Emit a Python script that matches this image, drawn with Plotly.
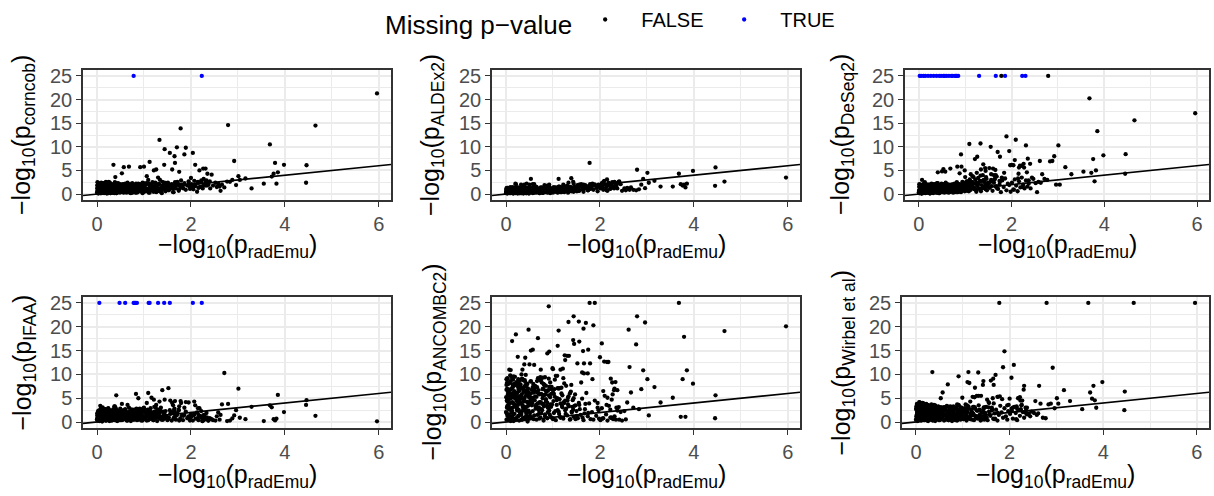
import plotly.graph_objects as go

# ---------------- data: -log10 p-values (None = missing p-value) ----------------
radEmu = [
    # right tail
    5.96, 4.65, 4.46, 4.45, 3.98, 3.85, 3.82, 3.79, 3.76, 3.72,
    3.68, 3.55, 3.29, 3.16, 3.04, 3.01, 2.96, 2.92, 2.88, 2.83,
    2.79, 2.77, 2.71, 2.66, 2.63, 2.61, 2.58, 2.55, 2.52, 2.47,
    2.44, 2.40,
    # mid range
    1.78, 1.89, 1.33, 1.44, 1.70, 1.55, 1.65, 1.86, 2.04, 1.66,
    1.12, 1.10, 1.43, 2.09, 1.21, 1.26, 1.60, 1.75, 2.18, 2.26,
    2.23, 2.31, 2.30, 2.35, 0.78, 1.30, 1.66, 1.39, 1.52, 1.09,
    0.91, 0.83, 0.41, 0.35, 0.57, 0.68, 0.92, 1.00, 0.53, 0.39,
    1.06, 0.48, 0.21, 0.13, 0.25, 0.60, 0.50, 0.74, 0.07, 0.05,
    0.01, 1.25, 1.34, 1.45, 1.56, 1.64, 1.74, 1.84, 1.79, 2.00,
    2.07, 2.15, 2.16, 2.27, 2.37, 2.41, 2.33, 2.22, 1.95, 1.97,
    1.62, 1.16, 1.22, 0.88, 0.99, 1.14,
    # low range (DeSeq2 missing)
    0.02, 0.10, 0.14, 0.20, 0.26, 0.32, 0.38, 0.44, 0.53, 0.56,
    0.65, 0.70, 0.73, 0.80, 0.82, 0.85,
    # bulk
    0.00, 0.01, 0.01, 0.02, 0.03, 0.03, 0.04, 0.05, 0.06, 0.07,
    0.08, 0.09, 0.10, 0.11, 0.12, 0.13, 0.14, 0.15, 0.16, 0.17,
    0.18, 0.19, 0.20, 0.21, 0.22, 0.23, 0.24, 0.25, 0.26, 0.27,
    0.28, 0.29, 0.30, 0.31, 0.32, 0.33, 0.34, 0.35, 0.36, 0.37,
    0.38, 0.39, 0.40, 0.41, 0.42, 0.43, 0.44, 0.45, 0.46, 0.47,
    0.48, 0.49, 0.50, 0.02, 0.04, 0.06, 0.09, 0.12, 0.15, 0.19,
    0.52, 0.54, 0.55, 0.57, 0.58, 0.60, 0.62, 0.63, 0.65, 0.66,
    0.68, 0.69, 0.71, 0.72, 0.74, 0.75, 0.77, 0.79, 0.80, 0.82,
    0.83, 0.85, 0.86, 0.88, 0.89, 0.91, 0.92, 0.94, 0.95, 0.97,
    0.98, 1.00, 0.24, 0.31, 0.37, 0.44, 0.51, 0.59, 0.67, 0.76,
    1.02, 1.04, 1.06, 1.08, 1.10, 1.12, 1.14, 1.16, 1.18, 1.20,
    1.22, 1.24, 1.26, 1.28, 1.30, 1.32, 1.34, 1.36, 1.38, 1.40,
    1.42, 1.44, 1.46, 1.48, 1.50, 0.84, 0.93, 1.03, 1.13, 1.23,
    1.53, 1.56, 1.59, 1.62, 1.65, 1.68, 1.71, 1.74, 1.77, 1.80,
    1.83, 1.86, 1.89, 1.92, 1.95, 1.98, 1.33, 1.43, 1.55, 1.67,
    2.01, 2.04, 2.07, 2.10, 2.13, 2.16, 2.19, 2.22, 2.25, 2.28,
    2.31, 2.34, 2.37, 2.05, 2.14, 2.24, 0.05, 0.10, 0.14, 0.22,
    0.27, 0.33, 0.40, 0.46, 0.53, 0.61, 0.70, 0.78, 0.87, 0.96,
    # bulk (second pass)
    0.005, 0.015, 0.025, 0.035, 0.045, 0.055, 0.065, 0.075, 0.085, 0.095,
    0.105, 0.115, 0.125, 0.135, 0.145, 0.155, 0.165, 0.175, 0.185, 0.195,
    0.205, 0.215, 0.225, 0.235, 0.245, 0.255, 0.265, 0.275, 0.285, 0.295,
    0.305, 0.315, 0.325, 0.335, 0.345, 0.355, 0.365, 0.375, 0.385, 0.395,
    0.405, 0.415, 0.425, 0.435, 0.445, 0.455, 0.465, 0.475, 0.485, 0.495,
    0.51, 0.53, 0.55, 0.57, 0.59, 0.61, 0.63, 0.65, 0.67, 0.69,
    0.71, 0.73, 0.75, 0.77, 0.79, 0.81, 0.83, 0.85, 0.87, 0.89,
    0.91, 0.93, 0.95, 0.97, 0.99, 1.01, 1.05, 1.09, 1.15, 1.19,
    0.03, 0.08, 0.13, 0.18, 0.23, 0.28, 0.33, 0.38, 0.43, 0.48,
    1.27, 1.31, 1.37, 1.41, 1.47, 1.51, 1.57, 1.63, 1.69, 1.75,
    # bulk (third pass)
    0.02, 0.06, 0.11, 0.16, 0.21, 0.26, 0.31, 0.36, 0.41, 0.46,
    0.04, 0.09, 0.14, 0.19, 0.24, 0.29, 0.34, 0.39, 0.44, 0.49,
    0.52, 0.56, 0.60, 0.64, 0.68, 0.72, 0.76, 0.80, 0.84, 0.88,
    0.92, 0.96, 1.00, 1.04, 1.08, 1.12, 1.16, 1.20, 1.24, 1.28,
    0.01, 0.07, 0.12, 0.17, 0.22, 0.27, 0.32, 0.37, 0.42, 0.47,
    0.54, 0.62, 0.70, 0.78, 0.86, 0.94, 1.02, 1.10, 1.18, 1.26,
    0.03, 0.08, 0.13, 0.18, 0.23, 0.28, 0.33, 0.38, 0.43, 0.50,
    1.32, 1.36, 1.40, 1.44, 1.48, 0.58, 0.66, 0.74, 0.82, 0.90,
]

corncob = [
    21.3, 14.5, 6.1, 2.4, 6.2, 4.6, 2.2, 6.6, 4.3, 3.7,
    10.5, 2.2, 1.2, 3.3, 3.0, 3.8, 1.9, 7.0, 3.0, 2.6,
    14.6, 2.65, 1.4, 2.0, 0.7, 1.6, 2.2, 1.5, 2.4, 1.8,
    4.1, 2.7,
    13.9, 9.8, 11.45, 9.5, 9.9, 8.7, 8.0, 8.4, 8.7, 6.6,
    6.8, 2.2, 6.2, 6.2, 5.0, 5.2, 5.2, 4.7, 5.0, 5.4,
    None, 5.4, 1.8, 4.3, None, 3.5, 2.5, 2.6, 2.1, 3.0,
    2.0, 1.2, 1.8, 6.2, 5.7, 5.8, 5.7, 5.8, 4.4, 3.6,
    3.8, 2.0, 1.0, 2.2, 2.6, 1.0, 1.5, 1.3, 1.5, 1.0,
    2.5, 2.3, 3.0, 2.0, 1.8, 1.7, 2.1, 1.2, 2.9, 3.4,
    2.0, 2.6, 1.3, 3.2, 2.0, 1.2, 2.9, 2.5, 2.2, 1.6,
    1.2, 1.9, 1.6, 1.4, 2.3, 1.2,
    1.4, 0.8, 1.9, 0.5, 2.3, 1.1, 0.4, 1.7, 0.6, 2.0,
    1.2, 0.3, 1.6, 0.9, 1.3, 2.1,
    0.3, 1.2, 0.7, 2.1, 0.1, 1.6, 0.9, 0.4, 1.9, 1.1,
    0.6, 2.4, 0.2, 1.4, 0.8, 1.8, 0.5, 1.0, 2.2, 0.3,
    1.5, 0.7, 1.9, 0.1, 1.2, 0.6, 2.3, 0.9, 0.4, 1.7,
    1.0, 0.2, 1.4, 2.0, 0.5, 1.1, 0.8, 1.8, 0.3, 1.3,
    2.5, 0.6, 1.0, 0.2, 1.6, 0.9, 1.9, 0.4, 1.2, 0.7,
    1.5, 0.3, 2.0, 0.8, 1.4, 0.5, 1.7, 1.1, 0.2, 2.6,
    0.9, 1.3, 0.4, 1.8, 0.7, 2.2, 1.0, 0.3, 1.5, 0.6,
    1.9, 0.8, 1.2, 0.2, 1.6, 2.3, 0.5, 1.0, 1.4, 0.4,
    1.1, 0.3, 1.8, 0.7, 2.1, 1.3, 0.6, 1.6, 0.9, 2.4,
    0.5, 1.2, 0.8, 1.7, 0.2, 1.4, 2.0, 0.6, 1.1, 1.8,
    1.4, 0.6, 2.2, 1.0, 0.3, 1.7, 0.8, 1.3, 2.5, 0.5,
    1.1, 1.9, 0.4, 1.5, 0.9, 2.1, 0.7, 1.3, 0.2, 1.8,
    1.0, 2.4, 0.6, 1.6, 1.2, 0.5, 1.4, 0.9, 2.0, 1.7,
    0.8, 1.5, 2.1, 0.4, 1.9, 1.2, 2.6, 0.7, 1.6, 2.0,
    1.3, 2.3, 0.9, 1.8, 2.7, 1.1, 0.6, 2.2, 1.0, 1.9,
    2.1, 1.4, 2.8, 1.7, 0.5, 2.4, 1.5, 2.9, 1.2, 2.0,
    2.6, 1.8, 2.2, 1.0, 2.5, 1.6, 0.8, 1.3, 1.9, 0.4,
    1.6, 0.9, 1.5, 2.2, 0.7, 1.3, 1.0, 1.7, 0.5, 1.2,
    1.8, 0.4, 2.2, 1.0, 0.6, 1.4, 2.0, 0.2, 1.2, 0.8,
    0.5, 1.7, 0.9, 2.3, 0.3, 1.1, 1.5, 0.7, 2.1, 1.3,
    2.0, 0.8, 1.3, 0.4, 1.9, 0.6, 1.1, 2.4, 0.2, 1.6,
    0.7, 2.1, 0.3, 1.5, 1.0, 1.8, 0.5, 1.2, 2.2, 0.9,
    1.4, 0.2, 1.9, 0.8, 2.3, 1.1, 0.4, 1.6, 0.9, 2.0,
    0.6, 1.5, 2.1, 0.3, 1.2, 1.8, 0.8, 2.4, 1.0, 0.4,
    1.7, 0.9, 0.3, 2.0, 1.3, 0.6, 2.2, 1.1, 0.5, 1.6,
    2.1, 0.7, 1.4, 0.2, 1.9, 1.0, 2.3, 0.6, 1.5, 0.9,
    0.9, 1.6, 0.3, 2.0, 1.2, 0.5, 1.8, 0.8, 2.2, 1.4,
    1.1, 2.0, 0.5, 1.7, 0.8, 2.4, 1.3, 0.4, 1.9, 1.0,
    0.7, 1.9, 1.2, 0.4, 2.2, 0.9, 1.5, 0.3, 1.8, 1.1,
    2.0, 0.6, 1.4, 1.0, 0.2, 1.7, 0.8, 2.3, 1.3, 0.5,
    1.6, 0.4, 2.1, 0.9, 1.2, 0.3, 1.9, 0.7, 1.4, 2.2,
    0.8, 1.5, 0.5, 2.0, 1.1, 0.3, 1.7, 0.9, 2.4, 1.3,
    1.2, 2.3, 0.5, 1.6, 0.9, 2.0, 0.3, 1.4, 0.7, 1.9,
    0.6, 1.3, 2.1, 0.4, 1.8, 1.0, 0.7, 2.2, 1.5, 0.5,
    1.7, 0.2, 1.1, 2.4, 0.6, 1.5, 0.9, 2.0, 0.4, 1.3,
    2.1, 0.8, 1.6, 1.0, 2.3, 0.5, 1.2, 1.8, 0.3, 1.6,
]

aldex2 = [
    3.5, 2.65, 5.65, 1.75, 4.9, 2.2, 1.4, 2.0, 1.8, 2.1,
    4.3, 1.6, 1.6, 2.8, 2.4, 4.5, 1.25, 3.2, 2.0, 1.0,
    5.15, 0.8, 0.9, 1.4, 0.9, 1.1, 1.3, 0.8, 1.2, 0.7,
    2.1, 2.6,
    6.6, 2.0, 2.4, 2.2, 1.8, 1.5, 2.0, 1.9, 2.3, 1.3,
    3.2, 1.0, 2.6, 2.8, 1.5, 1.0, 2.1, 1.6, 2.4, 2.5,
    2.0, 2.6, 1.2, 1.8, 0.5, 1.8, 1.4, 3.35, 1.9, 1.0,
    1.2, 1.1, 0.8, 0.6, 2.1, 0.9, 2.0, 1.0, 3.2, 2.0,
    1.4, 1.1, 2.1, 1.0, 1.4, 2.1, 2.0, 0.6, 0.5, 0.8,
    1.2, 1.5, 1.2, 1.3, 2.0, 1.9, 1.0, 2.2, 2.1, 1.8,
    2.5, 3.1, 1.9, 1.4, 2.3, 2.7, 1.5, 1.2, 1.5, 2.0,
    1.7, 1.3, 2.0, 1.8, 0.7, 1.6,
    0.6, 1.1, 0.3, 2.2, 0.8, 2.0, 0.5, 2.2, 1.3, 0.7,
    1.5, 0.4, 1.0, 0.6, 1.9, 0.9,
    0.2, 0.9, 0.5, 1.3, 0.1, 0.7, 1.1, 0.3, 0.8, 0.4,
    1.2, 0.6, 0.2, 1.0, 0.4, 0.8, 1.4, 0.1, 0.6, 0.9,
    0.3, 1.1, 0.7, 0.2, 1.3, 0.5, 0.9, 0.1, 1.0, 0.6,
    0.8, 0.3, 1.2, 0.5, 0.2, 1.0, 0.7, 0.4, 1.5, 0.1,
    0.6, 1.1, 0.3, 0.9, 0.5, 1.3, 0.2, 0.8, 0.4, 1.0,
    0.7, 0.1, 1.2, 0.5, 0.9, 0.3, 1.4, 0.6, 1.0, 0.2,
    0.9, 0.4, 1.1, 0.2, 0.7, 1.3, 0.5, 0.8, 0.3, 1.2,
    0.6, 1.0, 0.2, 0.8, 1.4, 0.4, 0.9, 0.3, 1.1, 0.7,
    0.5, 1.2, 0.8, 0.3, 1.0, 0.6, 1.5, 0.2, 0.9, 0.4,
    1.1, 0.7, 0.4, 1.0, 0.6, 0.2, 0.8, 1.3, 0.5, 0.9,
    0.8, 1.3, 0.5, 1.0, 0.3, 1.6, 0.7, 1.1, 0.4, 1.4,
    0.9, 0.4, 1.2, 0.7, 1.5, 0.3, 1.0, 0.6, 1.3, 0.8,
    1.1, 0.5, 1.6, 0.8, 1.2, 0.4, 1.0, 0.7, 1.4, 0.6,
    1.3, 0.7, 1.7, 1.0, 0.5, 1.9, 1.2, 0.8, 1.5, 1.1,
    1.6, 0.9, 2.0, 1.3, 0.6, 1.8, 1.0, 1.4, 0.7, 1.5,
    1.2, 1.8, 0.9, 2.1, 1.4, 0.7, 1.9, 1.1, 2.2, 1.5,
    1.7, 2.3, 1.2, 1.6, 0.8, 2.0, 0.5, 1.0, 0.3, 0.8,
    0.6, 1.1, 0.4, 0.9, 1.2, 0.5, 1.0, 0.3, 0.8, 0.6,
    0.5, 1.0, 0.2, 1.3, 0.7, 0.3, 1.1, 0.8, 0.4, 1.4,
    0.9, 0.3, 1.2, 0.6, 1.0, 0.2, 0.8, 1.3, 0.5, 0.7,
    0.4, 1.1, 0.7, 1.4, 0.3, 0.9, 0.5, 1.2, 0.8, 0.2,
    1.0, 0.6, 1.3, 0.3, 0.8, 1.1, 0.4, 0.7, 1.2, 0.5,
    0.3, 0.9, 0.6, 1.2, 0.4, 1.0, 1.3, 0.2, 0.7, 1.1,
    0.8, 0.4, 1.1, 0.6, 1.3, 0.3, 0.9, 0.5, 1.2, 0.7,
    1.0, 0.5, 0.8, 1.4, 0.3, 1.1, 0.6, 0.9, 1.3, 0.4,
    0.7, 1.2, 0.4, 1.0, 0.6, 1.4, 0.8, 1.1, 0.5, 1.3,
    0.6, 0.2, 0.9, 0.4, 1.1, 0.7, 0.3, 1.0, 0.5, 0.8,
    1.2, 0.7, 1.5, 0.9, 1.3, 0.6, 1.6, 1.0, 1.4, 0.8,
    0.4, 1.2, 0.7, 0.2, 1.0, 0.5, 1.3, 0.8, 0.3, 1.1,
    0.9, 0.3, 1.4, 0.6, 1.0, 0.2, 0.8, 1.2, 0.5, 0.7,
    1.1, 0.4, 0.9, 1.3, 0.6, 0.2, 1.0, 0.7, 1.4, 0.5,
    0.8, 1.2, 0.3, 1.0, 0.6, 1.5, 0.4, 0.9, 1.3, 0.7,
    0.6, 1.0, 0.3, 1.3, 0.8, 0.4, 1.1, 0.6, 0.2, 0.9,
    1.2, 0.5, 0.9, 0.3, 1.1, 0.7, 1.4, 0.4, 1.0, 0.8,
    0.3, 0.8, 1.2, 0.5, 0.9, 1.3, 0.2, 0.7, 1.1, 0.4,
    1.0, 1.4, 0.6, 1.2, 0.8, 0.3, 1.1, 0.5, 0.9, 1.3,
]

deseq2 = [
    17.1, 15.6, 8.45, 4.3, 8.2, 13.3, 5.0, 2.7, 7.4, 4.5,
    20.25, 4.75, 4.2, 5.7, 2.0, 10.3, 2.0, 8.0, 7.0, 6.9,
    25, 3.0, 3.2, 4.2, 2.4, 7.0, 2.6, 0.4, 2.3, 3.2,
    3.5, 6.4,
    25, 12.2, 10.7, 4.9, 8.9, 10.0, 5.1, None, 6.1, 4.0,
    4.2, 2.0, 5.5, 11.5, 7.4, 7.9, 5.4, 7.9, 6.0, 6.4,
    None, 10.3, None, 7.5, None, None, None, 6.3, 5.5, 10.6,
    8.4, 5.8, 4.6, 2.0, 4.75, 5.4, 5.8, 3.6, 5.3, 2.3,
    2.4, None, 1.5, 2.5, 1.0, None, 4.8, 2.0, 3.0, None,
    2.1, 4.5, 5.2, 3.6, 4.2, 3.2, 2.8, 4.5, 3.5, 6.2,
    7.2, 4.3, 5.6, 5.6, 2.9, 1.2, 4.6, 6.0, 9.1, 6.1,
    4.0, 3.8, 3.1, 4.4, 5.0, 2.6,
    None, None, None, None, None, None, None, None, None, None,
    None, None, None, None, None, None,
    0.4, 1.5, 0.8, 0.2, 1.9, 1.1, 0.5, 1.3, 0.1, 0.9,
    1.7, 0.3, 1.0, 2.2, 0.6, 1.4, 0.2, 0.8, 1.6, 0.4,
    1.2, 0.7, 2.0, 0.3, 1.5, 0.9, 0.1, 1.8, 0.6, 1.1,
    0.5, 1.6, 0.9, 0.2, 2.1, 1.3, 0.7, 0.4, 1.0, 1.9,
    0.8, 0.3, 1.4, 2.3, 0.6, 1.1, 0.2, 1.7, 0.9, 0.5,
    2.0, 1.2, 0.4, 0.7, 1.5, 0.1, 1.0, 1.8, 0.6, 1.3,
    0.9, 1.7, 0.3, 1.2, 2.4, 0.6, 1.4, 0.8, 2.0, 0.4,
    1.1, 0.5, 1.9, 0.9, 0.3, 1.6, 2.2, 0.7, 1.3, 2.5,
    0.6, 1.4, 0.8, 2.1, 1.0, 0.4, 1.7, 2.6, 0.9, 1.5,
    1.2, 2.0, 0.6, 1.3, 0.9, 1.8, 0.5, 1.1, 0.7, 1.6,
    1.8, 0.7, 2.6, 1.3, 3.1, 0.9, 2.0, 1.5, 3.6, 1.1,
    2.3, 0.8, 1.7, 3.4, 1.2, 2.8, 0.6, 1.9, 4.0, 1.4,
    2.5, 1.0, 3.2, 1.6, 2.1, 0.9, 1.4, 2.7, 1.8, 2.2,
    1.3, 3.0, 0.7, 2.4, 1.6, 3.7, 1.1, 2.0, 0.4, 2.9,
    1.5, 3.3, 0.8, 2.2, 1.9, 0.5, 3.9, 1.2, 2.6, 1.7,
    2.4, 1.0, 3.1, 1.8, 0.6, 2.7, 1.4, 3.5, 2.0, 1.2,
    2.9, 1.6, 2.2, 0.9, 3.3, 1.5, 0.7, 1.3, 2.0, 0.5,
    1.8, 1.2, 0.6, 1.4, 2.1, 0.9, 1.5, 0.4, 1.9, 1.0,
    0.7, 1.6, 0.3, 1.1, 2.0, 0.5, 1.3, 0.9, 1.8, 0.2,
    1.4, 0.6, 2.1, 0.4, 1.0, 1.7, 0.8, 0.3, 1.5, 1.2,
    0.9, 1.9, 0.5, 1.3, 0.2, 1.6, 1.0, 2.2, 0.7, 1.1,
    1.5, 0.4, 1.2, 1.8, 0.6, 0.9, 2.0, 0.3, 1.4, 0.8,
    0.5, 1.3, 0.8, 0.2, 1.7, 1.1, 0.6, 1.9, 1.0, 0.4,
    1.2, 0.7, 1.8, 1.0, 0.4, 2.1, 0.9, 1.4, 0.6, 1.6,
    0.8, 2.0, 1.1, 0.5, 1.5, 0.9, 2.2, 0.7, 1.3, 1.9,
    1.6, 0.9, 2.4, 1.2, 0.6, 1.8, 2.7, 1.0, 2.2, 1.4,
    1.1, 0.4, 1.7, 0.8, 1.3, 0.6, 1.9, 1.0, 0.5, 1.4,
    2.0, 1.1, 2.8, 1.5, 0.8, 2.4, 1.7, 3.1, 1.2, 2.6,
    1.0, 0.3, 1.7, 0.6, 1.3, 2.1, 0.4, 1.1, 0.8, 1.9,
    0.5, 1.4, 0.9, 2.0, 0.2, 1.2, 1.6, 0.7, 1.0, 2.2,
    1.3, 0.6, 1.8, 0.3, 1.1, 2.0, 0.8, 1.5, 0.4, 1.2,
    1.9, 0.9, 2.3, 1.4, 0.6, 1.7, 2.5, 1.0, 0.5, 2.1,
    0.2, 1.0, 1.5, 0.7, 1.9, 0.4, 1.2, 2.1, 0.9, 0.6,
    1.4, 0.8, 2.0, 1.1, 0.5, 1.6, 2.2, 0.9, 1.3, 2.4,
    1.8, 0.6, 1.1, 0.3, 1.4, 0.9, 2.0, 0.5, 1.6, 1.0,
    2.6, 1.2, 3.0, 1.8, 2.3, 0.7, 1.5, 1.9, 0.4, 1.3,
]

ifaa = [
    0.15, 1.3, 4.6, 3.6, 2.1, 5.7, 0.7, 0.35, 0.6, 3.1,
    3.5, 0.2, 3.2, 0.6, 0.9, 7.0, 2.5, 1.4, 0.77, 0.3,
    3.8, 0.2, 10.3, 3.7, 1.5, 0.5, 2.0, 1.2, 0.3, 0.4,
    0.6, 0.8,
    4.4, 4.2, 4.3, 4.7, 1.5, None, 2.8, 3.0, None, 4.4,
    None, None, None, 3.5, 4.7, 3.6, 4.0, 3.3, 2.9, 1.4,
    None, 0.8, 1.0, 0.6, None, None, 2.0, 6.7, 7.1, 6.1,
    2.5, 5.9, 5.6, 2.7, 2.4, 3.0, 2.2, 3.0, 3.8, 1.8,
    4.0, None, 1.2, 2.0, 1.3, None, 2.3, 2.6, 3.4, None,
    1.8, 3.0, 2.6, 1.0, 4.5, 2.5, 2.6, 1.3, 4.0, 1.6,
    4.3, 2.9, 1.5, 0.4, 0.3, 0.6, 1.9, 2.3, 4.1, 0.8,
    3.5, 5.1, 3.2, 5.0, 2.9, 2.1,
    1.0, 2.2, 0.7, 1.5, 2.4, 0.4, 3.3, 1.2, 2.0, 0.9,
    3.6, 1.7, 0.6, None, None, None,
    0.6, 1.8, 0.3, 1.1, 2.4, 0.8, 1.5, 0.2, 1.3, 0.9,
    2.0, 0.5, 1.2, 0.1, 1.7, 2.6, 0.7, 1.4, 0.4, 1.0,
    1.6, 0.3, 2.2, 0.9, 0.5, 1.3, 2.8, 0.7, 1.9, 0.2,
    1.1, 2.3, 0.6, 1.5, 0.3, 1.8, 1.0, 2.5, 0.8, 1.4,
    0.4, 1.2, 2.9, 0.7, 1.6, 0.2, 2.1, 1.0, 0.5, 1.7,
    2.2, 0.9, 1.3, 0.4, 2.0, 1.1, 0.6, 3.1, 1.5, 0.3,
    1.0, 2.4, 0.5, 1.8, 0.8, 2.7, 1.2, 0.3, 1.6, 2.1,
    0.7, 1.4, 2.3, 0.2, 1.9, 1.0, 0.5, 2.6, 1.3, 0.8,
    1.7, 0.4, 2.0, 1.1, 0.6, 2.8, 1.5, 0.9, 2.2, 0.3,
    1.2, 2.5, 0.7, 1.9, 3.3, 0.5, 1.4, 2.0, 0.9, 1.6,
    0.8, 1.9, 0.3, 2.4, 1.2, 0.6, 2.9, 1.0, 1.6, 0.4,
    2.2, 0.9, 1.5, 0.2, 2.6, 1.3, 0.7, 3.0, 1.1, 0.5,
    1.8, 0.8, 2.3, 1.2, 0.4, 1.6, 2.7, 0.6, 1.4, 2.0,
    0.9, 1.7, 0.3, 2.1, 1.1, 0.5, 1.8, 2.4, 0.7, 1.3,
    0.4, 1.5, 2.2, 0.8, 1.2, 0.3, 1.9, 1.0, 2.5, 0.6,
    1.1, 0.3, 1.6, 0.7, 2.0, 0.4, 1.3, 0.9, 0.2, 1.5,
    0.6, 1.0, 0.3, 1.4, 0.8, 0.2, 1.7, 2.6, 0.9, 2.1,
    1.3, 2.2, 0.8, 1.6, 0.4, 2.0, 1.1, 0.6, 1.8, 2.4,
    1.4, 0.5, 2.1, 0.9, 1.7, 0.3, 2.5, 1.1, 0.6, 1.9,
    0.8, 2.3, 1.2, 0.4, 1.6, 2.0, 0.7, 1.3, 2.7, 0.5,
    1.9, 0.6, 1.4, 2.4, 0.9, 0.3, 1.7, 1.0, 2.1, 1.5,
    0.4, 1.8, 0.8, 1.2, 2.6, 0.6, 1.5, 2.2, 0.9, 1.3,
    2.0, 1.1, 0.5, 1.7, 0.8, 2.3, 1.2, 0.4, 1.9, 2.8,
    1.0, 2.2, 0.6, 1.5, 2.5, 0.9, 1.8, 0.3, 1.3, 2.0,
    0.7, 1.6, 2.3, 1.1, 0.5, 1.9, 1.2, 2.6, 0.8, 1.4,
    1.8, 0.6, 2.0, 1.3, 2.4, 0.9, 1.6, 0.4, 2.1, 1.0,
    1.2, 2.5, 0.8, 1.6, 0.4, 2.0, 1.1, 2.3, 0.7, 1.5,
    0.9, 1.7, 0.5, 2.2, 1.3, 0.6, 1.9, 0.8, 1.4, 0.3,
    2.1, 0.9, 1.5, 2.7, 0.4, 1.8, 1.1, 2.4, 0.7, 1.3,
    1.0, 2.3, 0.5, 1.6, 2.9, 0.8, 1.4, 2.0, 0.3, 1.7,
    1.9, 0.6, 2.5, 1.2, 0.4, 2.2, 1.0, 1.6, 2.8, 0.5,
    1.4, 2.0, 0.7, 1.1, 2.6, 0.9, 1.8, 0.4, 1.5, 2.3,
    0.8, 1.6, 2.2, 0.5, 1.3, 2.5, 0.9, 1.9, 0.3, 1.2,
    2.4, 1.1, 0.6, 1.9, 1.4, 0.3, 2.1, 1.7, 0.8, 1.2,
    1.5, 2.8, 0.9, 1.3, 2.1, 0.6, 1.7, 1.0, 2.4, 0.4,
    1.1, 2.2, 0.5, 1.6, 0.9, 2.0, 1.3, 2.6, 0.7, 1.8,
]

ancombc2 = [
    20.1, 19.1, 5.6, 0.8, 8.05, 10.85, 1.1, 17.9, 9.0, 1.1,
    25, 5.1, 4.1, 7.35, 1.4, 9.0, 20.9, 10.85, 6.9, 2.7,
    22.2, 16.3, 3.0, 6.2, 11.55, 19.4, 4.1, 0.55, 2.3, 0.3,
    2.1, 3.15,
    25, 25, 21.0, 22.2, 20.8, 21.1, 19.6, 20.3, 16.5, 12.3,
    19.2, 16.0, 17.2, 12.7, 11.2, 13.0, 8.3, 15.2, 12.6, 8.3,
    9.1, 7.0, 6.7, 3.0, 5.0, 13.9, 10.2, 7.8, 12.3, 9.7,
    24.3, 9.4, 13.5, 11.0, 15.2, 17.6, 14.8, 11.1, 15.0, 12.1,
    9.7, 19.4, 18.4, 17.0, 13.7, 12.0, 12.1, 11.0, 11.0, 8.0,
    9.0, 14.0, 13.9, 16.4, 16.9, 14.9, 10.2, 9.0, 12.3, 13.6,
    6.5, 12.6, 5.1, 5.8, 6.7, 0.5, 8.4, 2.6, 4.0, 2.5,
    10.4, 11.0, 9.2, 14.4, 11.3, 7.1,
    4.4, 10.9, 6.0, 3.3, 9.0, 5.5, 7.2, 2.2, 8.6, 4.0,
    6.3, 1.7, 9.4, 3.8, 5.7, 7.6,
    2.1, 7.8, 0.5, 4.6, 9.2, 1.3, 5.8, 3.2, 0.9, 6.7,
    3.9, 0.4, 8.6, 2.5, 5.1, 1.1, 7.2, 4.0, 0.2, 6.1,
    1.7, 9.5, 3.4, 0.7, 5.6, 2.8, 8.1, 4.4, 1.2, 6.9,
    0.3, 4.8, 2.2, 7.5, 1.5, 5.3, 3.7, 9.0, 0.8, 6.3,
    2.6, 5.0, 0.6, 8.4, 3.1, 1.9, 6.6, 4.2, 0.1, 7.0,
    3.5, 1.0, 5.9, 3.0, 6.4, 1.6, 4.9, 2.0, 8.9, 3.6,
    4.5, 0.9, 6.8, 2.3, 8.0, 1.4, 5.4, 3.3, 0.5, 7.3,
    2.9, 6.0, 0.7, 4.1, 8.7, 1.8, 3.8, 5.5, 0.3, 7.7,
    1.6, 4.4, 6.5, 0.8, 3.0, 9.1, 2.4, 5.2, 1.1, 7.4,
    3.7, 0.6, 4.3, 7.9, 2.7, 5.7, 1.3, 6.2, 3.9, 8.3,
    1.9, 5.3, 0.4, 3.6, 7.1, 2.2, 4.8, 0.9, 6.0, 3.1,
    0.7, 4.0, 2.5, 7.6, 1.4, 5.1, 3.3, 0.5, 6.4, 2.0,
    4.6, 1.1, 3.4, 0.6, 2.3, 5.8, 3.2, 6.9, 1.7, 4.2,
    0.8, 3.6, 1.5, 4.9, 0.4, 2.7, 6.1, 1.2, 3.9, 0.6,
    2.1, 0.5, 4.5, 1.3, 3.0, 0.7, 5.4, 2.6, 4.0, 1.8,
    0.4, 2.9, 0.8, 5.5, 1.6, 0.3, 3.4, 0.9, 4.7, 0.6,
    1.2, 0.5, 2.4, 0.7, 3.6, 1.0, 4.1, 0.2, 7.9, 3.2,
    5.0, 2.1, 8.8, 0.9, 4.7, 6.6, 2.5, 9.3, 3.4, 5.9,
    5.2, 1.8, 7.0, 3.4, 0.6, 4.7, 2.6, 8.2, 1.2, 6.0,
    2.9, 5.7, 0.9, 4.2, 7.4, 1.6, 3.8, 6.5, 0.4, 5.0,
    6.2, 0.8, 4.5, 2.4, 7.8, 3.6, 1.3, 5.4, 8.6, 2.0,
    4.0, 7.1, 1.7, 5.8, 0.5, 3.2, 6.8, 2.7, 4.9, 1.0,
    7.6, 3.0, 5.5, 1.4, 4.3, 8.0, 2.2, 6.3, 0.7, 3.9,
    1.9, 6.0, 3.5, 7.3, 0.6, 4.6, 2.8, 5.3, 1.5, 6.7,
    4.1, 0.9, 5.9, 2.5, 7.0, 3.3, 1.2, 4.8, 6.4, 2.1,
    5.6, 1.6, 3.7, 6.9, 0.8, 4.4, 2.3, 5.0, 1.1, 3.4,
    3.3, 6.8, 1.0, 5.1, 2.9, 7.7, 0.5, 4.3, 6.1, 2.4,
    1.7, 4.5, 0.6, 3.2, 5.8, 1.3, 2.7, 0.9, 3.8, 1.9,
    8.2, 4.1, 6.9, 9.6, 3.5, 7.3, 5.0, 8.8, 2.9, 6.4,
    5.5, 9.8, 3.0, 7.7, 6.1, 4.4, 9.1, 2.4, 7.9, 5.2,
    8.5, 4.9, 7.0, 3.6, 9.2, 5.8, 2.7, 8.0, 6.6, 4.0,
    7.4, 3.2, 6.2, 8.9, 4.6, 7.0, 3.9, 5.6, 8.1, 2.8,
    6.8, 3.8, 9.4, 5.3, 8.4, 2.6, 7.1, 4.7, 9.9, 3.4,
    5.1, 7.6, 3.1, 6.9, 4.3, 8.3, 5.9, 2.5, 7.2, 4.5,
    9.0, 5.7, 2.3, 8.0, 4.8, 6.5, 10.0, 3.3, 7.5, 5.4,
    3.7, 6.0, 2.2, 5.0, 3.5, 6.3, 8.6, 4.2, 7.8, 6.7,
]

wirbel = [
    25, 25, 6.4, 2.5, 8.4, 3.0, 4.55, 7.6, 4.9, 6.2,
    25, 2.7, 4.4, 6.7, 3.85, 5.0, 2.9, 11.4, 3.85, 3.7,
    25, 0.8, 0.9, 3.85, 7.6, 1.8, 1.5, 4.4, 1.9, 2.2,
    1.2, 1.6,
    25, 14.85, 10.4, 8.6, 9.9, 4.2, 9.1, 11.5, 9.3, 7.8,
    10.5, 8.4, 7.8, 12.0, 5.3, 7.2, 8.7, 5.3, 5.0, 3.6,
    4.5, 7.6, 6.8, 2.4, 1.2, 5.5, 3.9, 5.5, 4.7, 3.5,
    9.6, 3.0, 3.0, 10.5, 6.2, 7.9, 3.4, 2.6, 5.0, 3.2,
    3.7, 2.5, 3.4, 3.9, 2.6, 3.0, 2.5, 1.9, 4.2, 2.0,
    2.8, 5.2, 5.5, 3.1, 4.0, 5.0, 5.3, 4.8, 5.4, 4.9,
    3.0, 3.3, 2.8, 4.5, 3.0, 1.8, 2.0, 5.2, 3.5, 2.3,
    2.4, 4.3, 3.2, 3.7, 5.1, 8.2,
    1.6, 3.0, 2.2, 0.8, 3.5, 1.4, 2.8, 0.6, 3.1, 1.9,
    2.4, 0.4, 3.3, 1.2, 2.7, 1.0,
    0.5, 2.6, 1.2, 3.8, 0.2, 1.9, 3.1, 0.8, 2.3, 1.5,
    4.1, 0.9, 2.0, 0.3, 3.4, 1.4, 2.7, 0.6, 3.9, 1.1,
    2.4, 0.4, 3.2, 1.7, 0.7, 2.9, 1.0, 3.6, 0.2, 2.1,
    1.3, 3.0, 0.5, 2.2, 3.5, 0.9, 1.8, 2.6, 0.3, 3.3,
    0.8, 2.5, 1.5, 0.2, 3.1, 1.1, 2.8, 0.6, 2.0, 1.6,
    3.2, 0.4, 2.3, 1.0, 3.7, 0.7, 2.6, 1.3, 3.0, 0.5,
    1.9, 3.1, 0.6, 2.4, 1.2, 0.3, 2.9, 1.6, 0.8, 3.4,
    2.2, 0.5, 1.4, 3.0, 0.9, 2.6, 0.2, 1.8, 3.3, 1.1,
    0.7, 2.8, 1.5, 0.3, 2.3, 3.6, 1.0, 2.0, 0.5, 1.7,
    2.5, 1.2, 3.4, 0.8, 2.7, 1.9, 0.4, 3.1, 1.4, 2.2,
    0.6, 2.9, 1.3, 0.3, 2.1, 3.3, 0.9, 1.7, 2.6, 0.5,
    1.8, 0.4, 3.0, 1.1, 2.4, 0.7, 3.5, 1.5, 0.3, 2.0,
    1.0, 2.7, 0.5, 1.9, 3.2, 1.4, 2.3, 0.8, 2.8, 1.6,
    0.4, 2.2, 1.3, 3.0, 0.7, 1.8, 2.6, 0.3, 1.5, 3.4,
    2.0, 0.9, 2.9, 1.2, 0.5, 3.6, 2.4, 1.1, 3.1, 0.6,
    1.7, 2.8, 0.7, 3.2, 1.9, 0.4, 2.5, 1.3, 3.5, 2.1,
    0.9, 3.0, 1.6, 2.3, 0.6, 2.7, 3.2, 1.4, 4.0, 2.6,
    1.9, 3.7, 0.8, 2.5, 1.2, 3.0, 2.1, 0.6, 1.8, 2.9,
    2.8, 0.6, 1.9, 3.5, 1.2, 0.3, 2.4, 1.6, 3.1, 0.9,
    1.5, 3.3, 0.5, 2.2, 1.0, 3.7, 1.8, 0.4, 2.6, 1.3,
    3.0, 1.1, 2.5, 0.6, 1.7, 3.4, 0.9, 2.1, 1.4, 2.9,
    0.8, 2.3, 1.5, 3.2, 0.4, 1.9, 2.7, 1.1, 3.6, 0.7,
    2.0, 0.5, 3.0, 1.3, 2.5, 0.8, 1.6, 3.3, 1.0, 2.2,
    1.2, 2.8, 0.7, 2.1, 1.6, 3.1, 0.5, 2.4, 1.9, 0.9,
    2.6, 1.0, 3.2, 0.6, 1.8, 2.3, 1.3, 2.9, 0.4, 1.7,
    0.9, 2.5, 1.4, 3.0, 2.0, 0.6, 1.7, 2.7, 1.1, 2.2,
    3.4, 1.5, 2.6, 0.7, 3.0, 1.2, 2.2, 0.5, 1.8, 2.9,
    1.3, 2.4, 0.8, 2.0, 3.1, 1.0, 1.6, 2.6, 0.7, 1.9,
    1.4, 3.2, 0.7, 2.5, 1.9, 0.4, 2.9, 1.1, 3.5, 2.0,
    2.7, 0.8, 3.6, 1.5, 0.3, 2.3, 1.2, 3.0, 0.6, 1.8,
    0.9, 2.4, 1.6, 3.1, 0.5, 2.0, 2.8, 1.3, 0.4, 2.6,
    1.7, 3.0, 0.8, 2.2, 1.4, 2.9, 0.6, 1.9, 3.2, 1.0,
    3.3, 1.2, 2.1, 0.5, 3.8, 1.6, 2.6, 0.9, 2.2, 3.0,
    1.1, 2.5, 0.4, 1.8, 3.1, 1.3, 2.3, 0.7, 1.5, 2.8,
    2.2, 3.9, 1.0, 2.8, 0.6, 3.4, 1.7, 2.4, 0.8, 3.1,
    1.2, 2.6, 0.5, 2.0, 1.4, 2.7, 0.9, 1.6, 3.0, 0.7,
]

method_labels = ["corncob", "ALDEx2", "DeSeq2", "IFAA", "ANCOMBC2", "Wirbel et al"]
method_values = [corncob, aldex2, deseq2, ifaa, ancombc2, wirbel]
x_ticks = [0, 2, 4, 6]
x_minor = [1, 3, 5]
y_ticks = [0, 5, 10, 15, 20, 25]
y_minor = [2.5, 7.5, 12.5, 17.5, 22.5]
missing_plot_value = 25  # missing p-values drawn at the top cap
legend_labels = ["FALSE", "TRUE"]
legend_title = "Missing p\u2212value"

for vals in method_values:
    assert len(vals) == len(radEmu), (len(vals), len(radEmu))

# ---------------- layout geometry (pixels) ----------------
W, H = 1214, 496
panel_px = [  # left, right, top, bottom
    (83, 391, 70, 200), (492, 800, 70, 200), (905, 1209, 70, 200),
    (83, 391, 297, 428), (492, 800, 297, 428), (902, 1209, 297, 428),
]
ytitle_x_px = [23, 432, 842, 23, 433, 842]
xtitle_y_px = [246, 246, 246, 476, 476, 476]

xmin, xmax = 0.0, max(radEmu)
xpad = 0.05 * (xmax - xmin)
x_range = [xmin - xpad, xmax + xpad]
ymin, ymax = 0.0, 25.0
ypad = 0.05 * (ymax - ymin)
y_range = [ymin - ypad, ymax + ypad]

FONT = "Liberation Sans, Arial, sans-serif"
GRID = "#EBEBEB"
BORDER = "#333333"
TICKTXT = "#4D4D4D"
MSIZE = 4.3
NBSP = "\u00a0"

fig = go.Figure()
annotations = []

for k, (label, vals) in enumerate(zip(method_labels, method_values)):
    xa = "x" if k == 0 else f"x{k+1}"
    ya = "y" if k == 0 else f"y{k+1}"
    xs_ok = [x for x, v in zip(radEmu, vals) if v is not None]
    ys_ok = [v for v in vals if v is not None]
    xs_na = [x for x, v in zip(radEmu, vals) if v is None]
    ys_na = [missing_plot_value for _ in xs_na]

    fig.add_trace(go.Scatter(
        x=xs_ok, y=ys_ok, mode="markers", xaxis=xa, yaxis=ya,
        marker=dict(color="black", size=MSIZE, line=dict(width=0)),
        name=NBSP * 2 + legend_labels[0], legendgroup=legend_labels[0], showlegend=(k == 0),
        hoverinfo="skip"))
    fig.add_trace(go.Scatter(
        x=xs_na if xs_na else [None], y=ys_na if ys_na else [None],
        mode="markers", xaxis=xa, yaxis=ya,
        marker=dict(color="#0000FF", size=MSIZE, line=dict(width=0)),
        name=NBSP * 2 + legend_labels[1], legendgroup=legend_labels[1], showlegend=(k == 0),
        hoverinfo="skip"))
    # identity reference line y = x across the panel
    fig.add_trace(go.Scatter(
        x=x_range, y=x_range, mode="lines", xaxis=xa, yaxis=ya,
        line=dict(color="black", width=1.7), showlegend=False, hoverinfo="skip"))

    l, r, t, b = panel_px[k]
    xdom = [l / W, r / W]
    ydom = [1 - b / H, 1 - t / H]
    axis_common = dict(
        showgrid=True, gridcolor=GRID, gridwidth=1.5, zeroline=False,
        showline=True, mirror=True, linecolor=BORDER, linewidth=1.5,
        ticks="outside", ticklen=5, tickwidth=1.3, tickcolor=BORDER,
        tickfont=dict(family=FONT, size=20, color=TICKTXT),
        fixedrange=True,
    )
    fig.layout[f"xaxis{k+1}" if k else "xaxis"] = dict(
        axis_common, domain=xdom, range=x_range, anchor=ya,
        tickmode="array", tickvals=x_ticks,
        minor=dict(tickmode="array", tickvals=x_minor, showgrid=True,
                   gridcolor=GRID, gridwidth=0.8, ticks=""),
    )
    fig.layout[f"yaxis{k+1}" if k else "yaxis"] = dict(
        axis_common, domain=ydom, range=y_range, anchor=xa,
        tickmode="array", tickvals=y_ticks,
        minor=dict(tickmode="array", tickvals=y_minor, showgrid=True,
                   gridcolor=GRID, gridwidth=0.8, ticks=""),
    )

    annotations.append(dict(
        text="\u2212log<sub>10</sub>(p<sub>radEmu</sub>)",
        xref="paper", yref="paper", x=(l + r) / 2 / W, y=1 - xtitle_y_px[k] / H,
        xanchor="center", yanchor="middle", showarrow=False,
        font=dict(family=FONT, size=25, color="black")))
    annotations.append(dict(
        text=f"\u2212log<sub>10</sub>(p<sub>{label}</sub>)",
        xref="paper", yref="paper", x=ytitle_x_px[k] / W, y=1 - (t + b) / 2 / H,
        xanchor="center", yanchor="middle", textangle=-90, showarrow=False,
        font=dict(family=FONT, size=25, color="black")))

fig.update_layout(
    width=W, height=H,
    margin=dict(l=0, r=0, t=0, b=0, autoexpand=False),
    paper_bgcolor="white", plot_bgcolor="white",
    font=dict(family=FONT, color="black"),
    annotations=annotations,
    showlegend=True,
    legend=dict(
        orientation="h", x=383 / W, xanchor="left", y=1.0, yanchor="top",
        title=dict(text=legend_title, font=dict(family=FONT, size=26, color="black"), side="left"),
        font=dict(family=FONT, size=20, color="black"),
        bgcolor="rgba(0,0,0,0)", itemsizing="trace", itemwidth=40,
        entrywidth=84, entrywidthmode="pixels",
    ),
)

fig.write_html("out.html", config={"displayModeBar": False},
               post_script="document.body.style.margin='0';")
